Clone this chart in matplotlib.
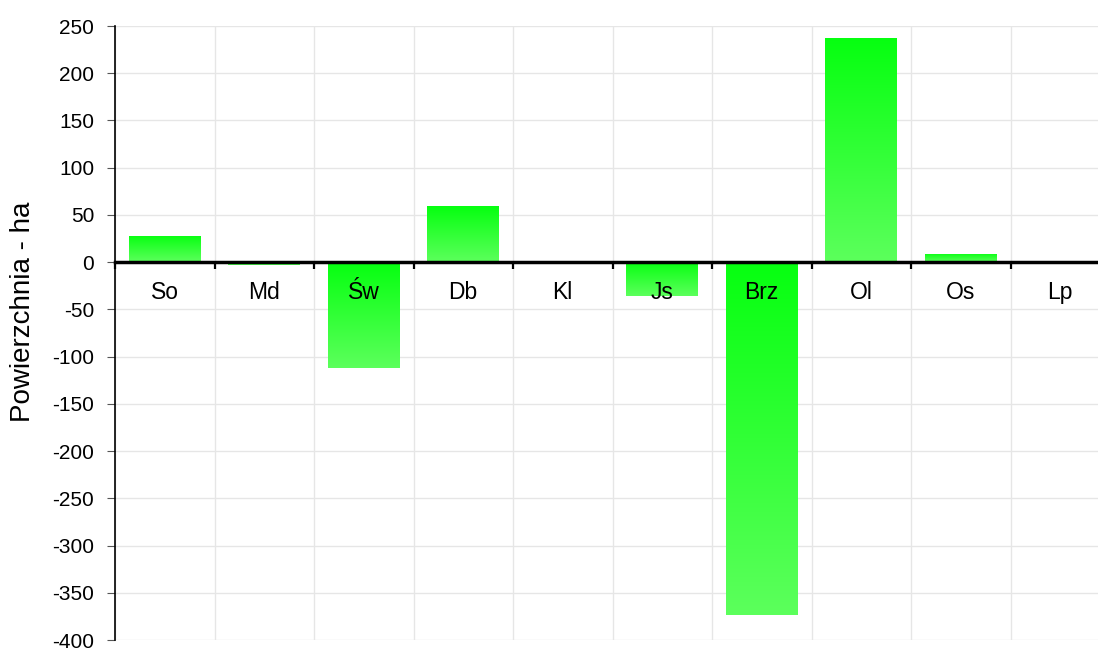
import numpy as np
import matplotlib
matplotlib.use('Agg')
from matplotlib import pyplot as plt
from matplotlib.colors import LinearSegmentedColormap

plt.rcParams['font.family'] = ['Liberation Sans', 'DejaVu Sans']
plt.rcParams['axes.unicode_minus'] = False

gatunki = ['So', 'Md', 'Św', 'Db', 'Kl', 'Js', 'Brz', 'Ol', 'Os', 'Lp']
zmiana = [28, -3, -112, 59, 0, -36, -374, 237, 9, 0]
y_ticks = list(range(-400, 251, 50))

fig = plt.figure(figsize=(10.98, 6.48), dpi=100)
ax = fig.add_axes([115 / 1098, 8 / 648, 995 / 1098, 614 / 648])

cmap = LinearSegmentedColormap.from_list('ziel', ['#5cff5c', '#06ff10'])
grad = np.linspace(0, 1, 256).reshape(-1, 1)

x = np.arange(len(gatunki))
bars = ax.bar(x, zmiana, width=0.72, color='#30ff30', zorder=2)
for b in bars:
    x0, y0 = b.get_x(), b.get_y()
    w, h = b.get_width(), b.get_height()
    if h == 0:
        continue
    lo, hi = min(y0, y0 + h), max(y0, y0 + h)
    b.set_facecolor('none')
    im = ax.imshow(grad, cmap=cmap, origin='lower', aspect='auto',
                   extent=[x0, x0 + w, lo, hi], zorder=2)
    im.set_clip_path(b)

for i, g in enumerate(gatunki):
    ax.annotate(g, xy=(i, 0), xytext=(0, -22), textcoords='offset points',
                ha='center', va='center', fontsize=16.5, color='black', zorder=5)

ax.set_xlim(-0.5, len(gatunki) - 0.5)
ax.set_ylim(-400, 250)
ax.set_yticks(y_ticks)
ax.set_xticks(np.arange(-0.5, len(gatunki), 1.0))
ax.set_xticklabels([])
ax.tick_params(axis='y', labelsize=15, length=6, color='#555555', pad=9)
ax.tick_params(axis='x', length=5, width=1.6, color='black', direction='out')

ax.grid(True, color='#e6e6e6', linewidth=1, zorder=0)
ax.set_axisbelow(True)

ax.spines['top'].set_visible(False)
ax.spines['right'].set_visible(False)
ax.spines['left'].set_linewidth(1.2)
ax.spines['bottom'].set_position(('data', 0))
ax.spines['bottom'].set_linewidth(2.5)
ax.spines['bottom'].set_zorder(4)

fig.text(23 / 1098, 1 - 312 / 648, 'Powierzchnia - ha', rotation=90,
         ha='center', va='center', fontsize=20)

plt.savefig('out.png', dpi=100)
